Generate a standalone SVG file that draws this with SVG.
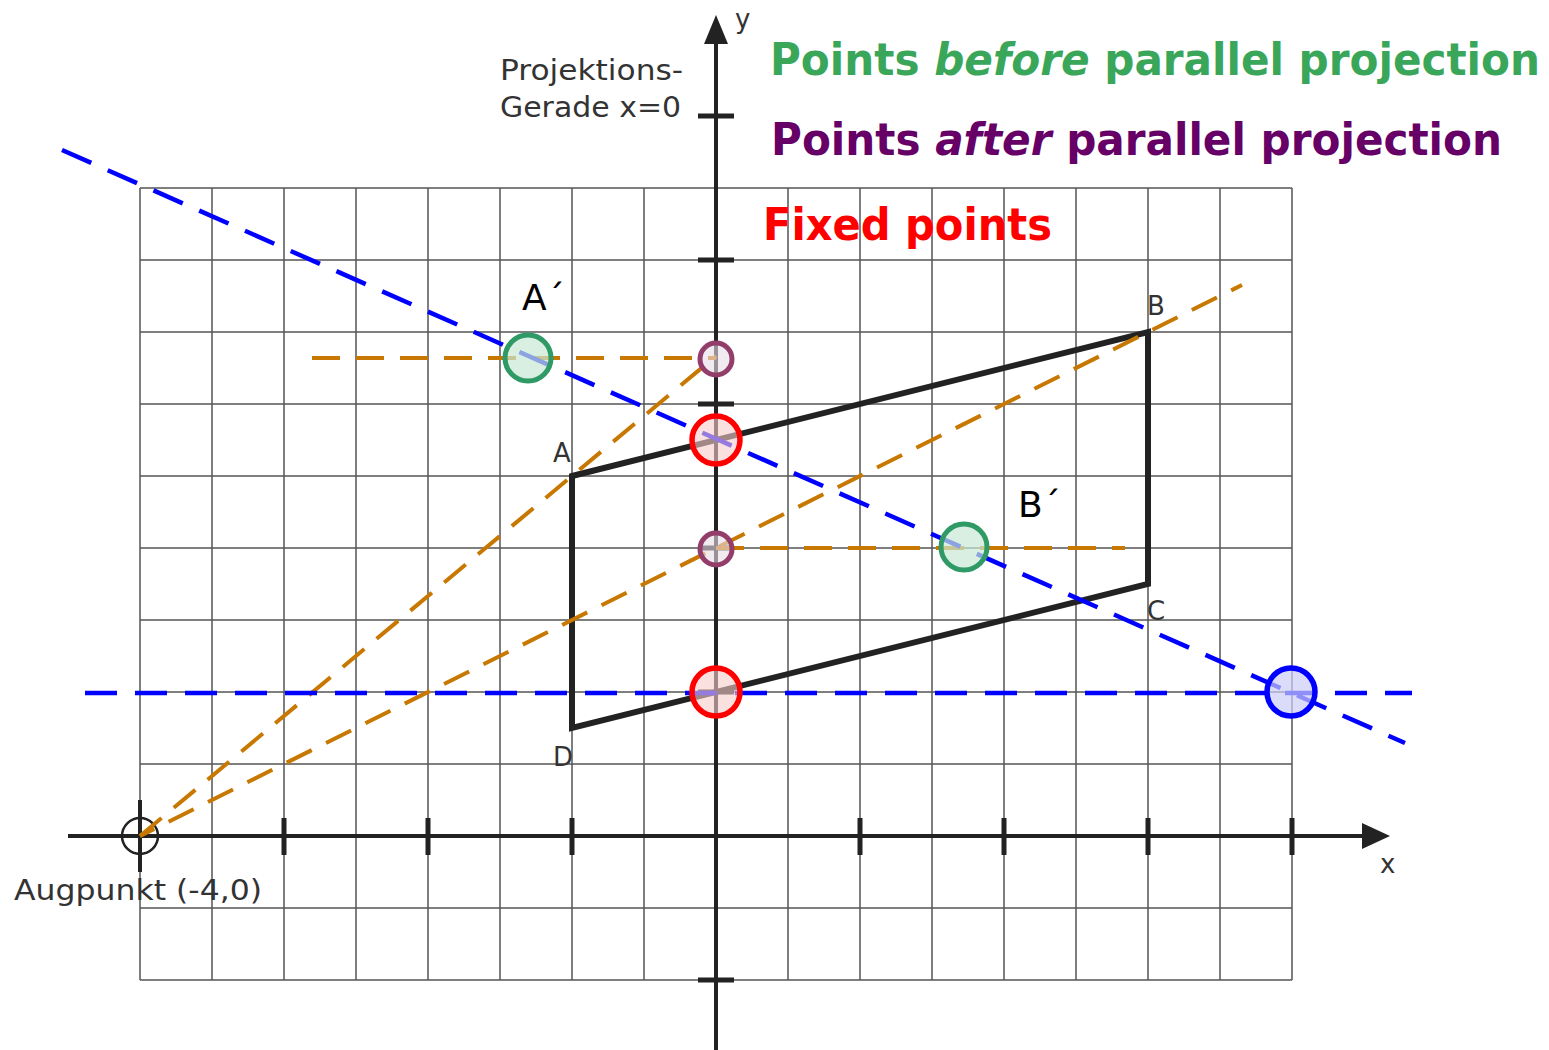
<svg xmlns="http://www.w3.org/2000/svg" width="1549" height="1050" viewBox="0 0 1549 1050">
<style>
.grid line{stroke:#555;stroke-width:1.5}
.axis{stroke:#222;stroke-width:4;fill:none}
.tick{stroke:#222;stroke-width:5}
.org{stroke:#c87800;stroke-width:4;stroke-dasharray:28 16;fill:none}
.blu{stroke:#0000ff;stroke-width:4.5;stroke-dasharray:32 18;fill:none}
.lbl{font-family:"DejaVu Sans",sans-serif;fill:#333}
.title{font-family:"DejaVu Sans Condensed","DejaVu Sans",sans-serif;font-weight:bold;font-size:44px}
</style>
<rect width="1549" height="1050" fill="#fff"/>
<g id="grid" class="grid">
<line x1="140" y1="188" x2="140" y2="980"/><line x1="212" y1="188" x2="212" y2="980"/><line x1="284" y1="188" x2="284" y2="980"/><line x1="356" y1="188" x2="356" y2="980"/><line x1="428" y1="188" x2="428" y2="980"/><line x1="500" y1="188" x2="500" y2="980"/><line x1="572" y1="188" x2="572" y2="980"/><line x1="644" y1="188" x2="644" y2="980"/><line x1="788" y1="188" x2="788" y2="980"/><line x1="860" y1="188" x2="860" y2="980"/><line x1="932" y1="188" x2="932" y2="980"/><line x1="1004" y1="188" x2="1004" y2="980"/><line x1="1076" y1="188" x2="1076" y2="980"/><line x1="1148" y1="188" x2="1148" y2="980"/><line x1="1220" y1="188" x2="1220" y2="980"/><line x1="1292" y1="188" x2="1292" y2="980"/>
<line x1="140" y1="188" x2="1292" y2="188"/><line x1="140" y1="260" x2="1292" y2="260"/><line x1="140" y1="332" x2="1292" y2="332"/><line x1="140" y1="404" x2="1292" y2="404"/><line x1="140" y1="476" x2="1292" y2="476"/><line x1="140" y1="548" x2="1292" y2="548"/><line x1="140" y1="620" x2="1292" y2="620"/><line x1="140" y1="692" x2="1292" y2="692"/><line x1="140" y1="764" x2="1292" y2="764"/><line x1="140" y1="908" x2="1292" y2="908"/><line x1="140" y1="980" x2="1292" y2="980"/>
</g>
<g id="axes">
<line class="axis" x1="68" y1="836" x2="1365" y2="836"/>
<path d="M1362,823 L1390,836 L1362,849 Z" fill="#222"/>
<line class="axis" x1="716" y1="1050" x2="716" y2="42"/>
<path d="M704,44 L716,15 L728,44 Z" fill="#222"/>
<g class="tick">
<line x1="284" y1="818" x2="284" y2="855"/><line x1="428" y1="818" x2="428" y2="855"/><line x1="572" y1="818" x2="572" y2="855"/><line x1="860" y1="818" x2="860" y2="855"/><line x1="1004" y1="818" x2="1004" y2="855"/><line x1="1148" y1="818" x2="1148" y2="855"/><line x1="1292" y1="818" x2="1292" y2="855"/>
<line x1="698" y1="116" x2="734" y2="116"/><line x1="698" y1="260" x2="734" y2="260"/><line x1="698" y1="404" x2="734" y2="404"/><line x1="698" y1="548" x2="734" y2="548"/><line x1="698" y1="692" x2="734" y2="692"/><line x1="698" y1="980" x2="734" y2="980"/>
</g>
</g>
<g id="augpunkt">
<circle cx="140" cy="836" r="18" fill="none" stroke="#222" stroke-width="2.5"/>
<line x1="140" y1="800" x2="140" y2="872" stroke="#222" stroke-width="4"/>
<text class="lbl" x="14" y="900" font-size="28" textLength="248" lengthAdjust="spacingAndGlyphs">Augpunkt (-4,0)</text>
</g>
<g id="parallelogram">
<path d="M572,476 L1148,332 L1148,584 L572,728 Z" fill="none" stroke="#222" stroke-width="6" stroke-linejoin="miter"/>
<text class="lbl" x="553" y="462" font-size="26">A</text>
<text class="lbl" x="1147" y="315" font-size="26">B</text>
<text class="lbl" x="1147" y="620" font-size="26">C</text>
<text class="lbl" x="553" y="766" font-size="26">D</text>
</g>
<g id="connectors">
<line class="org" x1="140" y1="836" x2="1242" y2="285" stroke-dashoffset="12"/>
<line class="org" x1="140" y1="836" x2="716" y2="356"/>
<line class="org" x1="312" y1="358" x2="716" y2="358"/>
<line class="org" x1="716" y1="548" x2="1125" y2="548"/>
<line class="blu" x1="62" y1="150" x2="1405" y2="743"/>
<line class="blu" x1="85" y1="693" x2="1412" y2="693"/>
</g>
<g id="points">
<circle cx="528" cy="358" r="23" fill="#c8e8d4" fill-opacity="0.7" stroke="#2f9a66" stroke-width="5"/>
<circle cx="964" cy="547" r="23" fill="#c8e8d4" fill-opacity="0.7" stroke="#2f9a66" stroke-width="5"/>
<circle cx="716" cy="359" r="16" fill="#e8dce6" fill-opacity="0.6" stroke="#933d6b" stroke-width="5"/>
<circle cx="716" cy="549" r="16" fill="#e8dce6" fill-opacity="0.6" stroke="#933d6b" stroke-width="5"/>
<circle cx="716" cy="440" r="24" fill="#f8cccc" fill-opacity="0.6" stroke="#ff0000" stroke-width="5.5"/>
<circle cx="716" cy="692" r="24" fill="#f8cccc" fill-opacity="0.6" stroke="#ff0000" stroke-width="5.5"/>
<circle cx="1291" cy="692" r="24" fill="#ccccf8" fill-opacity="0.7" stroke="#0000ff" stroke-width="5.5"/>
</g>
<g id="labels">
<text x="522" y="310" font-family="DejaVu Sans,sans-serif" font-size="36" fill="#000">A´</text>
<text x="1018" y="517" font-family="DejaVu Sans,sans-serif" font-size="36" fill="#000">B´</text>
<text class="lbl" x="500" y="80" font-size="28" textLength="183" lengthAdjust="spacingAndGlyphs">Projektions-</text>
<text class="lbl" x="500" y="117" font-size="28" textLength="181" lengthAdjust="spacingAndGlyphs">Gerade x=0</text>
<text class="lbl" x="735" y="28" font-size="26">y</text>
<text class="lbl" x="1380" y="873" font-size="26">x</text>
<text class="title" x="770" y="75" fill="#3aa65a" textLength="770" lengthAdjust="spacingAndGlyphs">Points <tspan font-style="italic">before</tspan> parallel projection</text>
<text class="title" x="771" y="155" fill="#660066" textLength="731" lengthAdjust="spacingAndGlyphs">Points <tspan font-style="italic">after</tspan> parallel projection</text>
<text class="title" x="763" y="240" fill="#ff0000" textLength="289" lengthAdjust="spacingAndGlyphs">Fixed points</text>
</g>
</svg>
